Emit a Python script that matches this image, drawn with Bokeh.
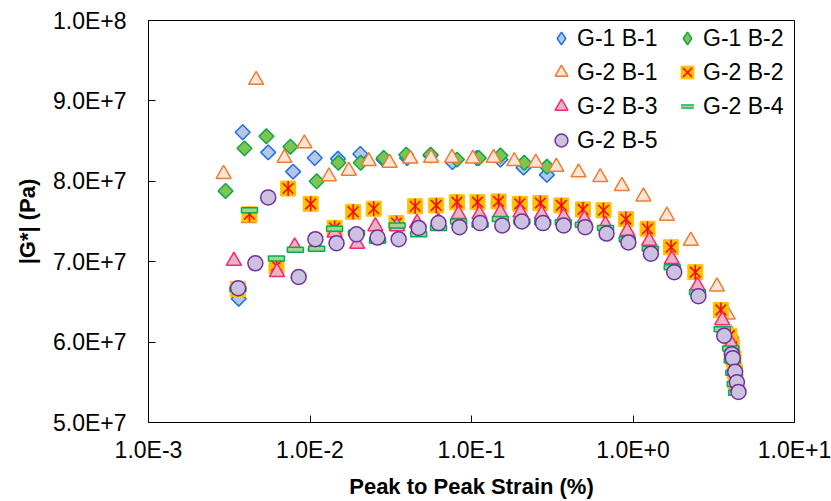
import numpy as np
from bokeh.plotting import figure
from bokeh.models import (ColumnDataSource, FixedTicker, CustomJSTickFormatter,
                          Legend, LegendItem)
from bokeh.embed import file_html
from bokeh.resources import INLINE

# ---------------- data ----------------
X_TICKS = [1e-3, 1e-2, 1e-1, 1e0, 1e1]
Y_TICKS = [5e7, 6e7, 7e7, 8e7, 9e7, 1e8]

G1B1_x = [0.00362, 0.00383, 0.00551, 0.00786, 0.0107, 0.0149, 0.0205, 0.0285,
          0.0399, 0.0558, 0.0762, 0.108, 0.151, 0.210, 0.293]
G1B1_y = [6.54e7, 8.61e7, 8.36e7, 8.12e7, 8.29e7, 8.28e7, 8.34e7, 8.27e7,
          8.29e7, 8.32e7, 8.24e7, 8.29e7, 8.27e7, 8.17e7, 8.08e7]

G1B2_x = [0.00300, 0.00393, 0.00537, 0.00756, 0.0110, 0.0150, 0.0206, 0.0286,
          0.0394, 0.0558, 0.0813, 0.111, 0.151, 0.212, 0.293]
G1B2_y = [7.88e7, 8.41e7, 8.56e7, 8.43e7, 8.00e7, 8.23e7, 8.23e7, 8.29e7,
          8.33e7, 8.33e7, 8.27e7, 8.29e7, 8.32e7, 8.23e7, 8.18e7]

G2B1_x = [0.00292, 0.00418, 0.00464, 0.00695, 0.00923, 0.0131, 0.0174, 0.0231,
          0.0311, 0.0418, 0.0562, 0.0757, 0.102, 0.137, 0.184, 0.250, 0.335,
          0.460, 0.627, 0.853, 1.16, 1.62, 2.28, 3.31, 3.86, 4.06, 4.19, 4.29,
          4.37, 4.41]
G2B1_y = [8.09e7, 7.54e7, 9.26e7, 8.29e7, 8.47e7, 8.06e7, 8.13e7, 8.25e7,
          8.23e7, 8.28e7, 8.29e7, 8.29e7, 8.28e7, 8.29e7, 8.25e7, 8.23e7, 8.18e7,
          8.11e7, 8.05e7, 7.94e7, 7.81e7, 7.57e7, 7.26e7, 6.69e7, 6.34e7, 6.10e7,
          5.92e7, 5.73e7, 5.57e7, 5.45e7]

G2B2_x = [0.00357, 0.00422, 0.00620, 0.00732, 0.0101, 0.0142, 0.0185, 0.0248,
          0.0343, 0.0448, 0.0605, 0.0813, 0.109, 0.147, 0.199, 0.267, 0.360,
          0.490, 0.657, 0.904, 1.23, 1.72, 2.43, 3.50, 3.95, 4.09, 4.19, 4.26,
          4.32]
G2B2_y = [6.66e7, 7.59e7, 6.95e7, 7.91e7, 7.72e7, 7.42e7, 7.62e7, 7.66e7,
          7.48e7, 7.69e7, 7.70e7, 7.74e7, 7.74e7, 7.75e7, 7.72e7, 7.73e7, 7.70e7,
          7.65e7, 7.64e7, 7.53e7, 7.41e7, 7.18e7, 6.87e7, 6.40e7, 6.08e7, 5.94e7,
          5.79e7, 5.64e7, 5.51e7]

G2B3_x = [0.00338, 0.00625, 0.00804, 0.0108, 0.0142, 0.0196, 0.0254, 0.0346,
          0.0460, 0.0622, 0.0832, 0.112, 0.151, 0.201, 0.272, 0.372, 0.500,
          0.675, 0.921, 1.26, 1.74, 2.51, 3.57, 4.06, 4.14, 4.23, 4.32, 4.41]
G2B3_y = [7.01e7, 6.87e7, 7.19e7, 7.20e7, 7.36e7, 7.22e7, 7.44e7, 7.44e7,
          7.48e7, 7.50e7, 7.59e7, 7.59e7, 7.61e7, 7.61e7, 7.59e7, 7.56e7, 7.53e7,
          7.46e7, 7.38e7, 7.26e7, 7.03e7, 6.70e7, 6.27e7, 5.98e7, 5.82e7, 5.67e7,
          5.54e7, 5.42e7]

G2B4_x = [0.00358, 0.00422, 0.00620, 0.00812, 0.0110, 0.0142, 0.0194, 0.0262,
          0.0346, 0.0471, 0.0625, 0.0832, 0.113, 0.151, 0.205, 0.276, 0.370,
          0.493, 0.676, 0.921, 1.28, 1.75, 2.51, 3.57, 4.03, 4.12, 4.21, 4.30,
          4.38]
G2B4_y = [6.66e7, 7.64e7, 7.04e7, 7.15e7, 7.16e7, 7.41e7, 7.36e7, 7.26e7,
          7.45e7, 7.34e7, 7.42e7, 7.50e7, 7.46e7, 7.53e7, 7.50e7, 7.49e7, 7.49e7,
          7.46e7, 7.42e7, 7.28e7, 7.16e7, 6.93e7, 6.62e7, 6.16e7, 5.92e7, 5.77e7,
          5.62e7, 5.48e7, 5.37e7]

G2B5_x = [0.00359, 0.00459, 0.00551, 0.00851, 0.0108, 0.0146, 0.0194, 0.0262,
          0.0354, 0.0471, 0.0625, 0.0842, 0.113, 0.155, 0.205, 0.277, 0.372,
          0.506, 0.686, 0.936, 1.29, 1.80, 2.54, 3.67, 4.09, 4.15, 4.29, 4.40,
          4.50]
G2B5_y = [6.67e7, 6.98e7, 7.80e7, 6.81e7, 7.28e7, 7.23e7, 7.34e7, 7.30e7,
          7.28e7, 7.42e7, 7.48e7, 7.43e7, 7.48e7, 7.45e7, 7.50e7, 7.48e7, 7.45e7,
          7.43e7, 7.35e7, 7.24e7, 7.10e7, 6.87e7, 6.57e7, 6.08e7, 5.85e7, 5.80e7,
          5.63e7, 5.50e7, 5.38e7]

LABELS = ["G-1 B-1", "G-1 B-2", "G-2 B-1", "G-2 B-2", "G-2 B-3", "G-2 B-4", "G-2 B-5"]

FONT = "Liberation Sans"

# ---------------- figure ----------------
p = figure(width=831, height=501, x_axis_type="log",
           x_range=(1e-3, 10), y_range=(5e7, 1e8),
           output_backend="svg", toolbar_location=None,
           min_border_left=148, min_border_right=37,
           min_border_top=20, min_border_bottom=77)
p.background_fill_color = "white"
p.border_fill_color = "white"
p.outline_line_color = "black"
p.outline_line_width = 1
p.grid.visible = False

fmt = CustomJSTickFormatter(code="""
const e = Math.floor(Math.log10(tick) + 1e-9);
const m = tick / Math.pow(10, e);
return m.toFixed(1) + "E" + (e >= 0 ? "+" : "-") + Math.abs(e);
""")

p.xaxis.ticker = FixedTicker(ticks=X_TICKS, minor_ticks=[])
p.yaxis.ticker = FixedTicker(ticks=Y_TICKS, minor_ticks=[])
for ax in (p.xaxis[0], p.yaxis[0]):
    ax.formatter = fmt
    ax.major_tick_in = 7
    ax.major_tick_out = 0
    ax.minor_tick_in = 0
    ax.minor_tick_out = 0
    ax.axis_line_color = "black"
    ax.major_tick_line_color = "black"
    ax.major_label_text_font = FONT
    ax.major_label_text_font_size = "23px"
    ax.major_label_text_color = "black"
    ax.axis_label_text_font = FONT
    ax.axis_label_text_font_style = "bold"
    ax.axis_label_text_color = "black"

p.xaxis.axis_label = "Peak to Peak Strain (%)"
p.xaxis.axis_label_text_font_size = "22px"
p.xaxis.major_label_standoff = 14
p.xaxis.axis_label_standoff = 8
p.yaxis.axis_label = "|G*| (Pa)"
p.yaxis.axis_label_text_font_size = "22px"
p.yaxis.major_label_standoff = 22
p.yaxis.axis_label_standoff = 10


def src(x, y):
    return ColumnDataSource(dict(x=x, y=y))


# G-1 B-1 : blue diamonds (small diamond underneath only feeds the legend)
s_g1b1 = src(G1B1_x, G1B1_y)
lg_g1b1 = p.scatter("x", "y", source=s_g1b1, marker="diamond", size=7,
                    fill_color="#B4C7E7", line_color="#1F6FE8", line_width=1.5)
p.scatter("x", "y", source=s_g1b1, marker="square", angle=np.pi / 4,
          size=10.5, fill_color="#B4C7E7", line_color="#1F6FE8", line_width=1.5)

# G-1 B-2 : green diamonds
s_g1b2 = src(G1B2_x, G1B2_y)
lg_g1b2 = p.scatter("x", "y", source=s_g1b2, marker="diamond", size=7,
                    fill_color="#7DC552", line_color="#13A54B", line_width=1.5)
p.scatter("x", "y", source=s_g1b2, marker="square", angle=np.pi / 4,
          size=10.5, fill_color="#7DC552", line_color="#13A54B", line_width=1.5)

# G-2 B-1 : hollow orange triangles
r_g2b1 = p.scatter("x", "y", source=src(G2B1_x, G2B1_y), marker="triangle",
                   size=15, fill_color="#FCE4D6", line_color="#ED7D31", line_width=1.5)

# G-2 B-2 : gold squares with red star
s_g2b2 = src(G2B2_x, G2B2_y)
r_g2b2_sq = p.scatter("x", "y", source=s_g2b2, marker="square", size=15,
                      fill_color="#FFC000", line_color="#FFC000", line_width=1)
r_g2b2_x = p.scatter("x", "y", source=s_g2b2, marker="x", size=15,
                     line_color="#FF0000", line_width=1.5)
p.scatter("x", "y", source=s_g2b2, marker="dash", angle=np.pi / 2, size=15,
          line_color="#FF0000", line_width=1.5)

# G-2 B-3 : pink triangles
r_g2b3 = p.scatter("x", "y", source=src(G2B3_x, G2B3_y), marker="triangle",
                   size=15, fill_color="#E4B6BF", line_color="#FF2277", line_width=1.5)

# G-2 B-4 : green dash (small dashes underneath only feed the legend)
s_g2b4 = src(G2B4_x, G2B4_y)
lg_g2b4_a = p.scatter("x", "y", source=s_g2b4, marker="dash", size=6,
                      line_color="#00B050", line_width=4.5)
lg_g2b4_b = p.scatter("x", "y", source=s_g2b4, marker="dash", size=6,
                      line_color="#A9D18E", line_width=2)
p.rect("x", "y", source=s_g2b4, width=16, height=5,
       width_units="screen", height_units="screen",
       fill_color="#A9D18E", line_color="#00B050", line_width=1.5)

# G-2 B-5 : lavender circles
r_g2b5 = p.scatter("x", "y", source=src(G2B5_x, G2B5_y), marker="circle",
                   size=15, fill_color="#CCC1DF", line_color="#7030A0", line_width=1.5)

items = [
    LegendItem(label=LABELS[0], renderers=[lg_g1b1]),
    LegendItem(label=LABELS[2], renderers=[r_g2b1]),
    LegendItem(label=LABELS[4], renderers=[r_g2b3]),
    LegendItem(label=LABELS[6], renderers=[r_g2b5]),
    LegendItem(label=LABELS[1], renderers=[lg_g1b2]),
    LegendItem(label=LABELS[3], renderers=[r_g2b2_sq, r_g2b2_x]),
    LegendItem(label=LABELS[5], renderers=[lg_g2b4_a, lg_g2b4_b]),
]
legend = Legend(items=items, location=(397, 265), orientation="vertical", nrows=4,
                glyph_width=32, glyph_height=34, label_standoff=0, label_width=94,
                spacing=0, padding=0, margin=0,
                border_line_color=None, background_fill_alpha=0,
                label_text_font=FONT, label_text_font_size="23px",
                label_text_color="black")
p.add_layout(legend)

open("out.html", "w").write(file_html(p, INLINE))
